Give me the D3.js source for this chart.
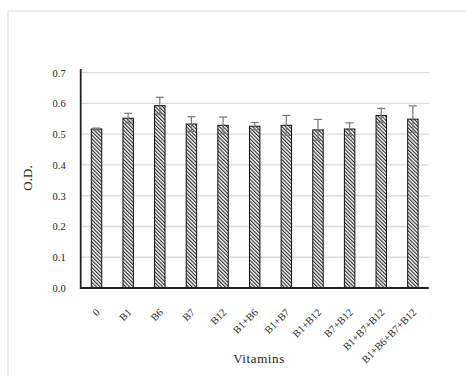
<!DOCTYPE html>
<html><head><meta charset="utf-8">
<script src="https://cdn.jsdelivr.net/npm/d3@7"></script>
<style>body{margin:0;background:#fff}svg{display:block}text{font-family:"Liberation Serif","Times New Roman",serif}</style>
</head><body><svg id="c" width="466" height="376"></svg>
<script>
const categories = ["0","B1","B6","B7","B12","B1+B6","B1+B7","B1+B12","B7+B12","B1+B7+B12","B1+B6+B7+B12"];
const values = [0.517,0.552,0.593,0.533,0.529,0.526,0.529,0.514,0.517,0.561,0.549];
const errors = [0.003,0.016,0.027,0.024,0.027,0.012,0.032,0.034,0.020,0.023,0.043];
const yTicks = [0,0.1,0.2,0.3,0.4,0.5,0.6,0.7];

const svg = d3.select("#c");
const m = {l:80.7, r:428.7, t:72.7, b:288};
const x = d3.scaleBand().domain(categories).range([m.l, m.r]).paddingInner(0.67).paddingOuter(0.335);
const y = d3.scaleLinear().domain([0,0.7]).range([m.b, m.t]);

// outer border
svg.append("rect").attr("x",8).attr("y",11).attr("width",470).attr("height",380)
  .attr("fill","none").attr("stroke","#d9d9d9").attr("stroke-width",1);

const defs = svg.append("defs");
const pat = defs.append("pattern").attr("id","hatch").attr("patternUnits","userSpaceOnUse")
  .attr("width",2.6).attr("height",2.6).attr("patternTransform","rotate(-45)");
pat.append("rect").attr("width",2.6).attr("height",2.6).attr("fill","#fff");
pat.append("line").attr("x1",0.6).attr("y1",0).attr("x2",0.6).attr("y2",2.6)
  .attr("stroke","#222").attr("stroke-width",1.1);

// gridlines
svg.append("g").selectAll("line").data(yTicks.filter(d=>d>0)).join("line")
  .attr("x1",m.l).attr("x2",m.r).attr("y1",d=>y(d)).attr("y2",d=>y(d))
  .attr("stroke","#d9d9d9").attr("stroke-width",1.3);

// y axis labels
const yAxis = d3.axisLeft(y).tickValues(yTicks).tickFormat(d3.format(".1f")).tickSize(0).tickPadding(15);
const ga = svg.append("g").attr("transform",`translate(${m.l},0)`).call(yAxis);
ga.select(".domain").remove();
ga.selectAll("text").attr("font-size",10.5).attr("fill","#222").style("font-family","'Liberation Serif',serif");

// bars
svg.append("g").selectAll("rect").data(values).join("rect")
  .attr("x",(d,i)=>x(categories[i])).attr("width",x.bandwidth())
  .attr("y",d=>y(d)).attr("height",d=>y(0)-y(d))
  .attr("fill","url(#hatch)").attr("stroke","#111").attr("stroke-width",1);

// error bars
const eg = svg.append("g").attr("stroke","#777").attr("stroke-width",1.2);
values.forEach((v,i)=>{
  const cx = x(categories[i]) + x.bandwidth()/2;
  eg.append("line").attr("x1",cx).attr("x2",cx).attr("y1",y(v-errors[i])).attr("y2",y(v+errors[i]));
  eg.append("line").attr("x1",cx-4).attr("x2",cx+4).attr("y1",y(v+errors[i])).attr("y2",y(v+errors[i]));
  eg.append("line").attr("x1",cx-4).attr("x2",cx+4).attr("y1",y(v-errors[i])).attr("y2",y(v-errors[i]));
});

// axes lines
svg.append("line").attr("x1",m.l).attr("x2",m.l).attr("y1",69).attr("y2",m.b+1)
  .attr("stroke","#222").attr("stroke-width",1.8);
svg.append("line").attr("x1",m.l).attr("x2",m.r).attr("y1",m.b).attr("y2",m.b)
  .attr("stroke","#222").attr("stroke-width",1.8);

// x labels
const xAxis = d3.axisBottom(x).tickSize(0).tickPadding(0);
const gx = svg.append("g").attr("transform",`translate(0,${m.b})`).call(xAxis);
gx.select(".domain").remove();
gx.selectAll("text").attr("font-size",10.5).attr("fill","#222")
  .style("font-family","'Liberation Serif',serif")
  .attr("text-anchor","end").attr("dy",null).attr("y",0)
  .attr("transform","translate(4,25) rotate(-45)");

// titles
svg.append("text").attr("transform","translate(32,178) rotate(-90)").attr("text-anchor","middle")
  .attr("font-size",13).attr("fill","#222").text("O.D.");
svg.append("text").attr("x",259).attr("y",363).attr("text-anchor","middle")
  .attr("font-size",13).attr("letter-spacing",0.6).attr("fill","#222").text("Vitamins");
</script></body></html>
